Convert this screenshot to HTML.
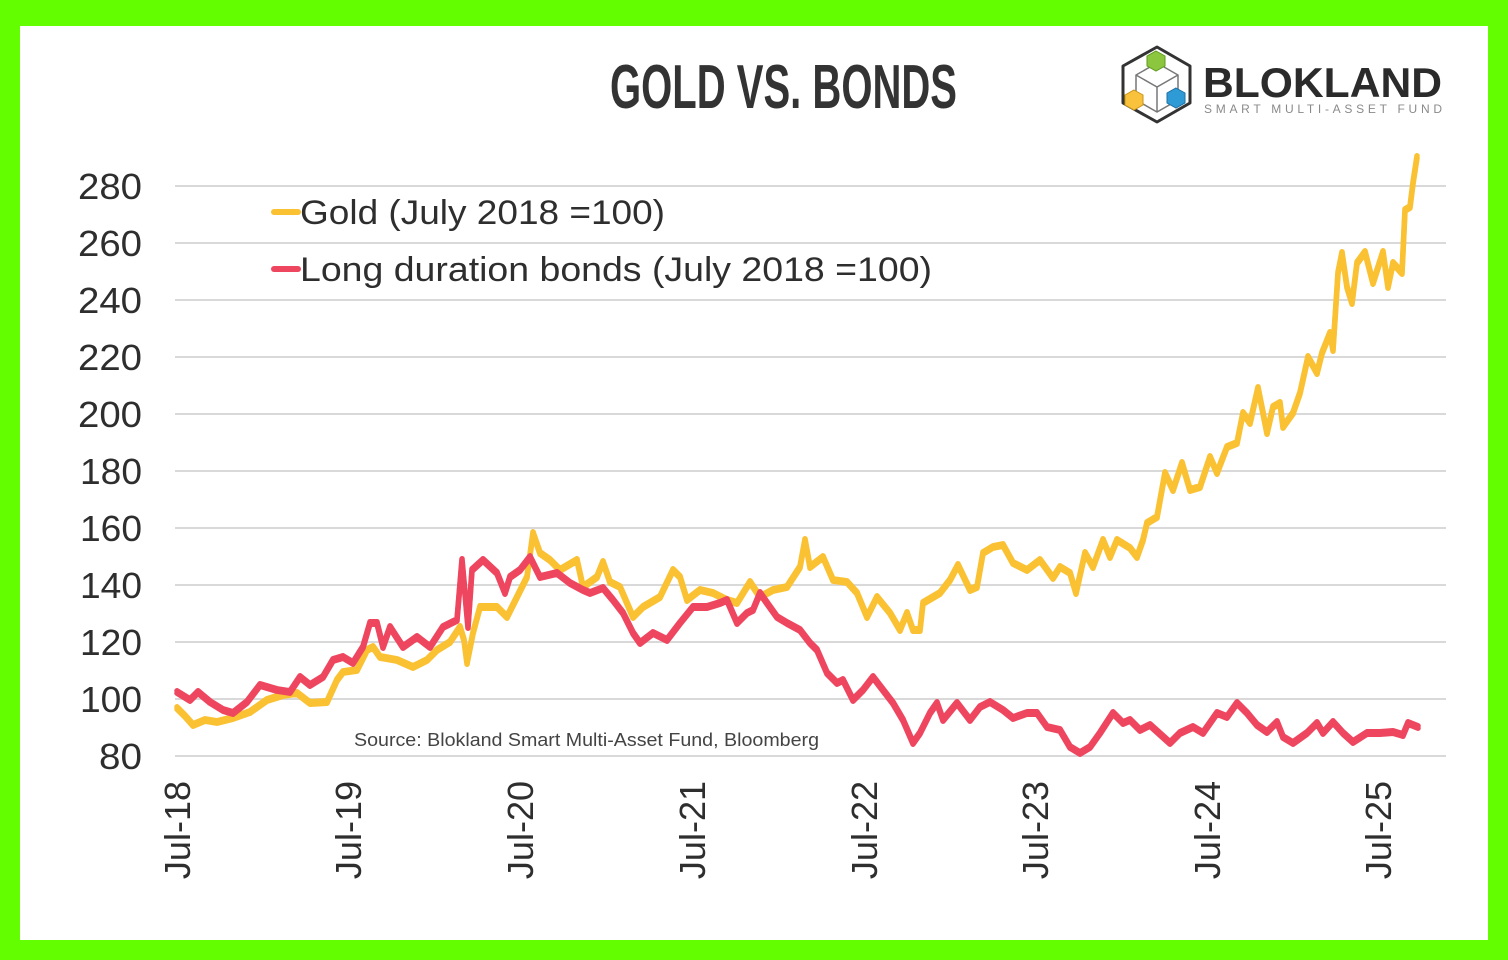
<!DOCTYPE html>
<html>
<head>
<meta charset="utf-8">
<style>
html,body{margin:0;padding:0;background:#63ff00;}
svg{display:block;}
</style>
</head>
<body>
<svg width="1508" height="960" viewBox="0 0 1508 960" xmlns="http://www.w3.org/2000/svg">
  <rect x="0" y="0" width="1508" height="960" fill="#63ff00"/>
  <rect x="20" y="26" width="1468" height="914" fill="#ffffff"/>

  <!-- Title -->
  <text x="610" y="108" font-family="'Liberation Sans Narrow','Liberation Sans',sans-serif" font-weight="bold" font-size="62" fill="#333333" textLength="347" lengthAdjust="spacingAndGlyphs">GOLD VS. BONDS</text>

  <!-- Logo -->
  <g>
    <polygon points="1157,47 1190,66 1190,103 1157,122 1123,103 1123,66" fill="none" stroke="#333" stroke-width="3" stroke-linejoin="round"/>
    <polygon points="1157,63 1178,75 1178,100 1157,112 1136,100 1136,75" fill="#fff" stroke="#777" stroke-width="1.5"/>
    <polyline points="1136,75 1157,87 1178,75" fill="none" stroke="#777" stroke-width="1.5"/>
    <line x1="1157" y1="87" x2="1157" y2="112" stroke="#777" stroke-width="1.5"/>
    <polygon points="1156,51 1165,56 1165,66 1156,71 1147,66 1147,56" fill="#8cc63f" stroke="#5f9a1f" stroke-width="1"/>
    <polygon points="1134,90 1143,95 1143,105 1134,110 1125,105 1125,95" fill="#f9c23c" stroke="#c99418" stroke-width="1"/>
    <polygon points="1176,88 1185,93 1185,103 1176,108 1167,103 1167,93" fill="#2f9bd6" stroke="#1d6fa0" stroke-width="1"/>
  </g>
  <text x="1203" y="97" font-family="'Liberation Sans',sans-serif" font-weight="bold" font-size="42" fill="#2b2b2b" textLength="239" lengthAdjust="spacingAndGlyphs">BLOKLAND</text>
  <text x="1204" y="113" font-family="'Liberation Sans',sans-serif" font-size="12" fill="#8a8a8a" textLength="238" lengthAdjust="spacing">SMART MULTI-ASSET FUND</text>

  <!-- Gridlines -->
  <g stroke="#d9d9d9" stroke-width="2">
    <line x1="175" y1="186" x2="1446" y2="186"/>
    <line x1="175" y1="243" x2="1446" y2="243"/>
    <line x1="175" y1="300" x2="1446" y2="300"/>
    <line x1="175" y1="357" x2="1446" y2="357"/>
    <line x1="175" y1="414" x2="1446" y2="414"/>
    <line x1="175" y1="471" x2="1446" y2="471"/>
    <line x1="175" y1="528" x2="1446" y2="528"/>
    <line x1="175" y1="585" x2="1446" y2="585"/>
    <line x1="175" y1="642" x2="1446" y2="642"/>
    <line x1="175" y1="699" x2="1446" y2="699"/>
    <line x1="175" y1="756" x2="1446" y2="756"/>
  </g>

  <!-- Y labels -->
  <g font-family="'Liberation Sans',sans-serif" font-size="36" fill="#2e2e2e" text-anchor="end">
    <text x="142" y="199" textLength="64" lengthAdjust="spacingAndGlyphs">280</text>
    <text x="142" y="256" textLength="64" lengthAdjust="spacingAndGlyphs">260</text>
    <text x="142" y="313" textLength="64" lengthAdjust="spacingAndGlyphs">240</text>
    <text x="142" y="370" textLength="64" lengthAdjust="spacingAndGlyphs">220</text>
    <text x="142" y="427" textLength="64" lengthAdjust="spacingAndGlyphs">200</text>
    <text x="142" y="484" textLength="62" lengthAdjust="spacingAndGlyphs">180</text>
    <text x="142" y="541" textLength="62" lengthAdjust="spacingAndGlyphs">160</text>
    <text x="142" y="598" textLength="62" lengthAdjust="spacingAndGlyphs">140</text>
    <text x="142" y="655" textLength="62" lengthAdjust="spacingAndGlyphs">120</text>
    <text x="142" y="712" textLength="62" lengthAdjust="spacingAndGlyphs">100</text>
    <text x="142" y="769" textLength="43" lengthAdjust="spacingAndGlyphs">80</text>
  </g>

  <!-- X labels -->
  <g font-family="'Liberation Sans',sans-serif" font-size="36" fill="#2e2e2e" text-anchor="end">
    <text transform="translate(190,781) rotate(-90)">Jul-18</text>
    <text transform="translate(361,781) rotate(-90)">Jul-19</text>
    <text transform="translate(533,781) rotate(-90)">Jul-20</text>
    <text transform="translate(705,781) rotate(-90)">Jul-21</text>
    <text transform="translate(877,781) rotate(-90)">Jul-22</text>
    <text transform="translate(1048,781) rotate(-90)">Jul-23</text>
    <text transform="translate(1220,781) rotate(-90)">Jul-24</text>
    <text transform="translate(1391,781) rotate(-90)">Jul-25</text>
  </g>

  <!-- Source -->
  <text x="354" y="746" font-family="'Liberation Sans',sans-serif" font-size="18" fill="#444444" textLength="465" lengthAdjust="spacingAndGlyphs">Source: Blokland Smart Multi-Asset Fund, Bloomberg</text>

  <defs>
    <polyline id="gold" fill="none" stroke="#fac133" stroke-width="5.5" stroke-linejoin="round" stroke-linecap="round"
    points="177,708 185,716 193,725 205,720 217,722 233,718 250,712 267,700 283,695 297,693 310,703 327,702 337,680 343,672 357,670 367,650 373,647 380,657 397,660 413,667 427,660 437,650 450,642 460,627 464,640 467,663 473,633 480,607 497,607 507,617 517,597 527,577 533,533 540,553 550,560 560,570 577,560 583,587 597,577 603,562 610,582 620,587 633,617 643,607 660,597 673,570 680,577 687,600 700,590 713,593 727,600 737,603 750,582 760,597 773,590 787,587 800,567 805,540 810,567 823,557 833,580 847,582 857,593 867,617 877,597 890,613 900,630 907,613 913,630 920,630 923,603 940,593 950,580 958,565 970,590 977,587 983,553 993,547 1003,545 1013,563 1027,570 1040,560 1053,578 1060,567 1070,573 1076,593 1085,553 1093,567 1103,540 1110,557 1117,540 1130,548 1137,557 1143,540 1147,523 1157,517 1165,473 1173,490 1182,463 1190,490 1200,487 1210,457 1217,473 1227,447 1237,443 1243,413 1250,423 1258,388 1267,433 1273,407 1280,403 1283,427 1293,413 1300,393 1308,357 1317,373 1322,353 1330,333 1333,350 1338,273 1342,253 1347,287 1352,303 1357,263 1365,252 1373,283 1383,252 1388,287 1393,263 1402,273 1405,210 1410,207 1413,183 1417,157"/>
    <polyline id="bond" fill="none" stroke="#ef4660" stroke-width="5.5" stroke-linejoin="round" stroke-linecap="round"
    points="177,692 190,700 198,692 210,702 223,710 233,713 247,702 260,685 277,690 290,692 300,677 310,685 323,677 333,660 343,657 353,663 363,647 370,623 377,623 383,647 390,627 403,647 417,637 430,647 443,627 457,620 462,560 468,627 472,570 483,560 497,573 505,593 510,577 520,570 530,557 540,577 557,573 570,583 583,590 590,593 603,588 613,600 623,613 633,633 640,643 653,633 667,640 680,623 693,607 707,607 720,603 727,600 737,623 747,613 753,610 760,593 767,603 777,617 787,623 800,630 810,643 817,650 827,673 837,683 843,680 853,700 863,690 873,677 883,690 893,703 903,720 913,743 920,733 930,713 937,703 943,720 957,703 970,720 980,707 990,702 1003,710 1013,718 1027,713 1037,713 1047,727 1060,730 1070,747 1080,753 1090,747 1100,733 1113,713 1123,723 1130,720 1140,730 1150,725 1170,743 1180,733 1193,727 1203,733 1217,713 1227,717 1237,703 1247,713 1257,725 1267,732 1277,722 1283,737 1293,743 1307,733 1317,723 1323,733 1333,722 1343,733 1353,742 1367,733 1380,733 1393,732 1403,735 1408,723 1418,727"/>
  </defs>

  <!-- Gold series (thickened to mimic daily noise) -->
  <use href="#gold" transform="translate(0,-1.2)"/>
  <use href="#gold" transform="translate(0,1.2)"/>
  <!-- Bonds series -->
  <use href="#bond" transform="translate(0,-1.2)"/>
  <use href="#bond" transform="translate(0,1.2)"/>

  <!-- Legend -->
  <line x1="274" y1="212" x2="298" y2="212" stroke="#fac133" stroke-width="6" stroke-linecap="round"/>
  <text x="300" y="224" font-family="'Liberation Sans',sans-serif" font-size="34" fill="#2e2e2e" textLength="365" lengthAdjust="spacingAndGlyphs">Gold (July 2018 =100)</text>
  <line x1="274" y1="269" x2="298" y2="269" stroke="#ef4660" stroke-width="6" stroke-linecap="round"/>
  <text x="300" y="281" font-family="'Liberation Sans',sans-serif" font-size="34" fill="#2e2e2e" textLength="632" lengthAdjust="spacingAndGlyphs">Long duration bonds (July 2018 =100)</text>
</svg>
</body>
</html>
